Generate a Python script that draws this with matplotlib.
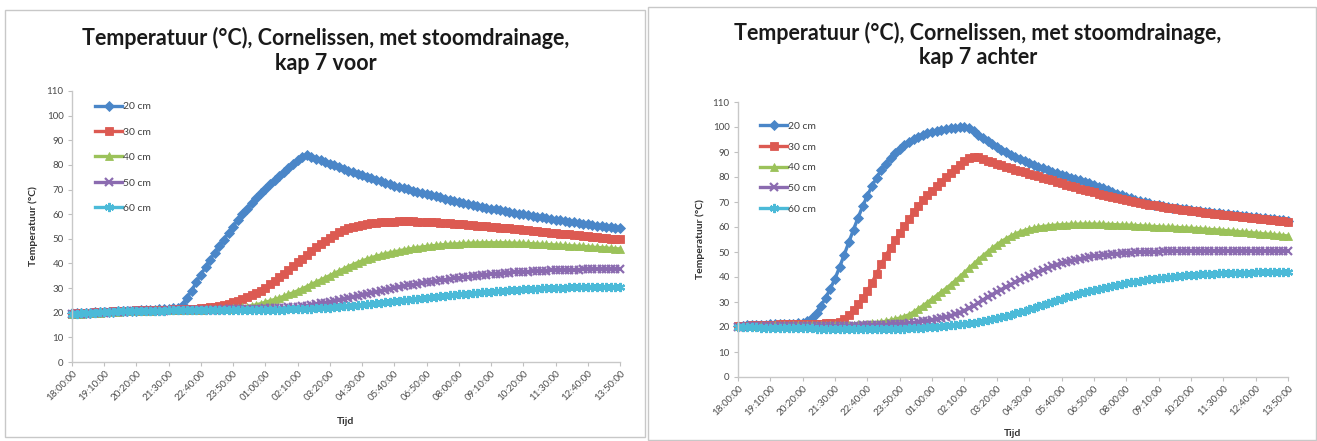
import numpy as np
import matplotlib
matplotlib.use("Agg")
import matplotlib.pyplot as plt
from matplotlib.patches import Rectangle

# ---------------- data ----------------
tick_labels = ["18:00:00", "19:10:00", "20:20:00", "21:30:00", "22:40:00", "23:50:00",
               "01:00:00", "02:10:00", "03:20:00", "04:30:00", "05:40:00", "06:50:00",
               "08:00:00", "09:10:00", "10:20:00", "11:30:00", "12:40:00", "13:50:00"]
series_names = ["20 cm", "30 cm", "40 cm", "50 cm", "60 cm"]

# kap 7 voor (10-minute readings)
voor_20 = [19.8,19.9,19.9,20.0,20.0,20.1,20.1,20.2,20.3,20.4,
           20.5,20.6,20.7,20.8,20.9,21.0,21.1,21.2,21.3,21.4,
           21.5,21.6,21.8,22.0,23.0,26.0,29.0,32.5,35.5,38.5,
           41.5,44.3,47.0,49.7,52.3,55.0,57.6,60.0,62.3,64.5,
           66.5,68.5,70.4,72.2,73.9,75.5,77.0,78.6,80.5,82.0,
           83.2,84.0,83.3,82.6,81.9,81.2,80.5,79.8,79.1,78.4,
           77.7,77.0,76.4,75.8,75.2,74.6,74.0,73.4,72.8,72.2,
           71.6,71.1,70.6,70.1,69.6,69.1,68.6,68.1,67.6,67.2,
           66.8,66.3,65.9,65.5,65.1,64.7,64.3,63.9,63.5,63.1,
           62.7,62.3,62.0,61.6,61.3,60.9,60.6,60.2,59.9,59.6,
           59.3,59.0,58.7,58.4,58.1,57.8,57.5,57.2,57.0,56.7,
           56.4,56.2,55.9,55.7,55.4,55.2,54.9,54.7,54.4,54.2]
voor_30 = [19.6,19.7,19.8,19.9,20.0,20.1,20.2,20.3,20.4,20.5,
           20.6,20.7,20.8,20.9,21.0,21.0,21.1,21.1,21.2,21.2,
           21.3,21.3,21.4,21.4,21.5,21.5,21.6,21.7,21.8,22.0,
           22.2,22.5,22.8,23.2,23.7,24.2,24.8,25.5,26.3,27.1,
           28.0,29.0,30.2,31.5,32.9,34.3,35.8,37.3,38.8,40.4,
           42.0,43.6,45.1,46.6,48.0,49.3,50.5,51.6,52.6,53.4,
           54.2,54.8,55.3,55.7,56.1,56.4,56.6,56.8,56.9,57.0,
           57.0,57.1,57.1,57.1,57.1,57.0,57.0,56.9,56.8,56.7,
           56.6,56.5,56.4,56.2,56.1,55.9,55.8,55.6,55.4,55.3,
           55.1,54.9,54.7,54.5,54.4,54.2,54.0,53.8,53.6,53.4,
           53.3,53.1,52.9,52.7,52.5,52.3,52.1,51.9,51.8,51.6,
           51.4,51.2,51.0,50.8,50.6,50.5,50.3,50.1,49.9,49.8]
voor_40 = [19.5,19.5,19.6,19.7,19.8,19.9,20.0,20.1,20.2,20.3,
           20.4,20.5,20.6,20.7,20.8,20.8,20.9,20.9,21.0,21.0,
           21.1,21.1,21.1,21.2,21.2,21.2,21.3,21.3,21.3,21.4,
           21.4,21.5,21.5,21.6,21.7,21.8,22.0,22.2,22.5,22.8,
           23.2,23.7,24.2,24.8,25.4,26.0,26.7,27.4,28.1,28.9,
           29.7,30.6,31.5,32.4,33.3,34.2,35.1,36.0,36.9,37.8,
           38.7,39.5,40.3,41.0,41.7,42.3,42.9,43.4,43.9,44.3,
           44.7,45.1,45.5,45.8,46.1,46.4,46.7,46.9,47.1,47.3,
           47.5,47.7,47.8,47.9,48.0,48.1,48.2,48.3,48.3,48.4,
           48.4,48.4,48.4,48.4,48.4,48.3,48.3,48.2,48.2,48.1,
           48.0,47.9,47.8,47.7,47.6,47.5,47.4,47.3,47.2,47.1,
           47.0,46.9,46.8,46.6,46.5,46.4,46.3,46.1,46.0,45.9]
voor_50 = [19.4,19.5,19.5,19.6,19.7,19.8,19.9,20.0,20.1,20.2,
           20.3,20.4,20.5,20.5,20.6,20.7,20.7,20.8,20.8,20.9,
           20.9,21.0,21.0,21.0,21.1,21.1,21.1,21.2,21.2,21.2,
           21.3,21.3,21.3,21.4,21.4,21.4,21.5,21.5,21.6,21.6,
           21.7,21.7,21.8,21.8,21.9,22.0,22.1,22.2,22.3,22.5,
           22.7,22.9,23.2,23.5,23.8,24.1,24.5,24.9,25.3,25.7,
           26.1,26.5,26.9,27.3,27.7,28.1,28.5,28.9,29.3,29.7,
           30.1,30.4,30.8,31.1,31.4,31.7,32.0,32.3,32.6,32.9,
           33.2,33.4,33.7,33.9,34.2,34.4,34.6,34.8,35.0,35.2,
           35.4,35.6,35.8,35.9,36.1,36.2,36.4,36.5,36.6,36.7,
           36.8,36.9,37.0,37.1,37.2,37.2,37.3,37.4,37.4,37.5,
           37.5,37.6,37.6,37.6,37.7,37.7,37.7,37.7,37.7,37.7]
voor_60 = [19.6,19.6,19.7,19.8,19.9,20.0,20.1,20.2,20.3,20.4,
           20.5,20.6,20.6,20.7,20.7,20.8,20.8,20.8,20.9,20.9,
           20.9,21.0,21.0,21.0,21.0,21.0,21.0,21.0,21.0,21.0,
           21.0,21.0,21.0,21.0,21.0,21.0,21.0,21.0,21.1,21.1,
           21.1,21.1,21.2,21.2,21.2,21.3,21.3,21.4,21.4,21.5,
           21.5,21.6,21.7,21.8,21.9,22.0,22.1,22.3,22.4,22.6,
           22.7,22.9,23.1,23.3,23.5,23.7,23.9,24.1,24.3,24.5,
           24.7,24.9,25.1,25.3,25.5,25.7,25.9,26.1,26.3,26.5,
           26.7,26.9,27.1,27.3,27.5,27.7,27.8,28.0,28.2,28.3,
           28.5,28.6,28.8,28.9,29.0,29.2,29.3,29.4,29.5,29.6,
           29.7,29.8,29.9,30.0,30.0,30.1,30.2,30.2,30.3,30.3,
           30.4,30.4,30.4,30.5,30.5,30.5,30.5,30.5,30.5,30.5]

# kap 7 achter (10-minute readings)
achter_20 = [20.5,20.6,20.7,20.8,20.9,21.0,21.0,21.1,21.1,21.2,
             21.2,21.3,21.4,21.5,21.8,22.5,23.8,25.8,28.6,31.8,
             35.4,39.4,44.0,49.0,54.0,59.0,63.8,68.4,72.6,76.4,
             79.8,82.8,85.4,87.7,89.7,91.4,92.9,94.2,95.3,96.2,
             97.0,97.6,98.1,98.5,98.9,99.2,99.5,99.7,99.9,100.0,
             99.5,98.5,97.0,95.5,94.3,93.1,92.0,90.9,89.9,88.9,
             88.0,87.2,86.4,85.6,84.9,84.2,83.5,82.8,82.2,81.6,
             81.0,80.4,79.8,79.2,78.7,78.1,77.6,76.9,76.2,75.5,
             74.8,74.1,73.4,72.8,72.2,71.6,71.0,70.5,70.0,69.5,
             69.0,68.7,68.4,68.1,67.8,67.6,67.3,67.1,66.8,66.6,
             66.4,66.1,65.9,65.7,65.5,65.3,65.1,64.9,64.7,64.5,
             64.3,64.1,63.9,63.7,63.5,63.3,63.1,62.9,62.7,62.5]
achter_30 = [20.4,20.5,20.6,20.7,20.8,20.9,20.9,21.0,21.0,21.1,
             21.1,21.2,21.2,21.2,21.3,21.3,21.3,21.4,21.4,21.5,
             21.6,21.8,22.2,23.2,25.0,27.0,29.2,31.6,34.5,37.8,
             41.4,45.2,48.6,51.8,54.8,57.6,60.4,63.2,66.0,68.6,
             70.8,72.8,74.6,76.4,78.2,80.0,81.8,83.4,84.9,86.3,
             87.5,88.2,87.9,87.3,86.6,85.9,85.3,84.7,84.1,83.5,
             83.0,82.4,81.9,81.4,80.9,80.4,79.8,79.3,78.7,78.1,
             77.6,77.0,76.5,75.9,75.4,74.9,74.4,73.9,73.4,73.0,
             72.5,72.1,71.6,71.2,70.8,70.4,70.0,69.7,69.3,69.0,
             68.7,68.4,68.1,67.8,67.5,67.3,67.0,66.8,66.5,66.3,
             66.1,65.8,65.6,65.4,65.2,65.0,64.8,64.6,64.4,64.2,
             64.0,63.8,63.6,63.4,63.2,63.0,62.8,62.6,62.4,62.2]
achter_40 = [20.3,20.4,20.4,20.5,20.5,20.6,20.6,20.6,20.7,20.7,
             20.7,20.7,20.8,20.8,20.8,20.8,20.8,20.9,20.9,20.9,
             20.9,20.9,21.0,21.0,21.0,21.0,21.1,21.2,21.3,21.5,
             21.7,22.0,22.3,22.7,23.1,23.6,24.2,24.9,26.0,27.2,
             28.5,29.8,31.2,32.6,34.0,35.4,36.9,38.5,40.1,41.8,
             43.5,45.2,46.9,48.5,50.0,51.5,52.9,54.2,55.3,56.3,
             57.2,58.0,58.6,59.1,59.5,59.9,60.2,60.4,60.6,60.8,
             60.9,61.0,61.1,61.1,61.2,61.2,61.2,61.2,61.1,61.1,
             61.0,61.0,60.9,60.8,60.8,60.7,60.6,60.5,60.4,60.3,
             60.2,60.1,60.0,59.9,59.9,59.8,59.7,59.6,59.5,59.4,
             59.3,59.1,59.0,58.9,58.8,58.6,58.5,58.3,58.2,58.0,
             57.9,57.7,57.6,57.4,57.2,57.1,56.9,56.7,56.6,56.4]
achter_50 = [20.2,20.2,20.3,20.3,20.3,20.4,20.4,20.4,20.4,20.5,
             20.5,20.5,20.5,20.5,20.5,20.5,20.5,20.5,20.5,20.5,
             20.5,20.5,20.5,20.5,20.6,20.6,20.6,20.7,20.7,20.8,
             20.8,20.9,21.0,21.1,21.2,21.3,21.4,21.6,21.8,22.0,
             22.3,22.6,22.9,23.2,23.6,24.0,24.5,25.1,25.8,26.6,
             27.5,28.5,29.6,30.8,31.9,33.0,34.0,35.0,36.0,37.0,
             37.9,38.7,39.5,40.3,41.1,41.9,42.7,43.5,44.3,45.0,
             45.6,46.1,46.5,46.9,47.3,47.7,48.0,48.3,48.5,48.8,
             49.0,49.2,49.4,49.6,49.7,49.8,49.9,50.0,50.1,50.1,
             50.2,50.2,50.3,50.3,50.3,50.4,50.4,50.4,50.4,50.4,
             50.5,50.5,50.5,50.5,50.5,50.5,50.5,50.5,50.5,50.5,
             50.5,50.4,50.4,50.4,50.4,50.4,50.4,50.4,50.4,50.4]
achter_60 = [20.0,20.0,19.9,19.9,19.9,19.8,19.8,19.8,19.7,19.7,
             19.7,19.6,19.6,19.6,19.5,19.5,19.5,19.4,19.4,19.4,
             19.3,19.3,19.3,19.2,19.2,19.2,19.2,19.2,19.2,19.2,
             19.2,19.2,19.2,19.3,19.3,19.4,19.4,19.5,19.6,19.7,
             19.8,19.9,20.0,20.2,20.4,20.6,20.8,21.0,21.2,21.4,
             21.6,21.8,22.0,22.3,22.7,23.1,23.5,24.0,24.5,25.0,
             25.5,26.0,26.6,27.2,27.8,28.4,29.0,29.6,30.2,30.8,
             31.4,32.0,32.5,33.0,33.5,34.0,34.5,34.9,35.3,35.7,
             36.1,36.5,36.9,37.3,37.6,37.9,38.2,38.5,38.8,39.1,
             39.4,39.6,39.8,40.0,40.2,40.4,40.6,40.7,40.9,41.0,
             41.1,41.2,41.3,41.4,41.5,41.6,41.6,41.7,41.7,41.8,
             41.8,41.8,41.9,41.9,41.9,42.0,42.0,42.0,42.0,42.0]

voor = [voor_20, voor_30, voor_40, voor_50, voor_60]
achter = [achter_20, achter_30, achter_40, achter_50, achter_60]

# ---------------- style ----------------
colors = ["#4a86c8", "#dc5a52", "#9bc25a", "#8b6bb0", "#4bbad8"]
markers = ["D", "s", "^", "x", (6, 2, 0)]
msizes = [5.0, 5.6, 6.0, 5.6, 6.6]
mews = [0.6, 0.6, 0.6, 1.6, 1.6]

W, H = 1317, 441
fig = plt.figure(figsize=(W / 100, H / 100), dpi=100)
fig.patch.set_facecolor("white")
plt.rcParams["font.family"] = ["Lato", "DejaVu Sans"]

# panel frames
for (x0, y0, x1, y1) in [(5, 10, 645, 437), (648, 7, 1316, 440)]:
    fig.add_artist(Rectangle((x0 / W, 1 - y1 / H), (x1 - x0) / W, (y1 - y0) / H,
                             transform=fig.transFigure, fill=False,
                             ec="#c8c8c8", lw=1.0))


def make_panel(rect, data, title, title_xy, ylab_x, xlab_y, leg_anchor, leg_spacing):
    x0, x1, y0, y110 = rect
    ax = fig.add_axes([x0 / W, 1 - y0 / H, (x1 - x0) / W, (y0 - y110) / H])
    for vals, name, c, m, ms, mw in zip(data, series_names, colors, markers, msizes, mews):
        xs = np.arange(len(vals))
        ax.plot(xs, vals, color=c, lw=2.4, marker=m, ms=ms, mew=mw,
                mec=c, mfc=c, label=name, clip_on=False)
    n = len(data[0])
    ax.set_xlim(0, n - 1)
    ax.set_ylim(0, 110)
    ax.set_yticks(range(0, 111, 10))
    ax.set_xticks(range(0, n, 7))
    ax.set_xticklabels(tick_labels, rotation=45, ha="right", rotation_mode="anchor",
                       fontsize=7, color="#4a4a4a")
    ax.tick_params(axis="y", labelsize=7, labelcolor="#4a4a4a", length=3, color="#c0c0c0", pad=3)
    ax.tick_params(axis="x", length=3, color="#c0c0c0", pad=2)
    for s in ("top", "right"):
        ax.spines[s].set_visible(False)
    for s in ("left", "bottom"):
        ax.spines[s].set_color("#c8c8c8")
        ax.spines[s].set_linewidth(1.0)
    tx, ty1, ty2 = title_xy
    fig.text(tx / W, 1 - ty1 / H, title[0], ha="center", va="center",
             fontsize=15.5, fontweight="bold", color="#1a1a1a")
    fig.text(tx / W, 1 - ty2 / H, title[1], ha="center", va="center",
             fontsize=15.5, fontweight="bold", color="#1a1a1a")
    fig.text(ylab_x / W, 1 - ((y0 + y110) / 2) / H, "Temperatuur (°C)", rotation=90,
             ha="center", va="center", fontsize=7.5, fontweight="bold", color="#303030")
    fig.text(((x0 + x1) / 2) / W, 1 - xlab_y / H, "Tijd", ha="center", va="center",
             fontsize=7.5, fontweight="bold", color="#303030")
    leg = ax.legend(loc="upper left", bbox_to_anchor=leg_anchor, frameon=False,
                    fontsize=7.5, handlelength=2.6, handletextpad=0.1,
                    labelspacing=leg_spacing, borderaxespad=0)
    for t in leg.get_texts():
        t.set_color("#404040")
    return ax


make_panel((72, 620, 362, 91), voor,
           ("Temperatuur (°C), Cornelissen, met stoomdrainage,", "kap 7 voor"),
           (326, 38, 63), 33, 422, (0.035, 0.975), 1.55)
make_panel((738, 1288, 377, 102), achter,
           ("Temperatuur (°C), Cornelissen, met stoomdrainage,", "kap 7 achter"),
           (978, 33, 57), 700, 433, (0.033, 0.944), 1.1)

fig.savefig("out.png", dpi=100, facecolor="white")
